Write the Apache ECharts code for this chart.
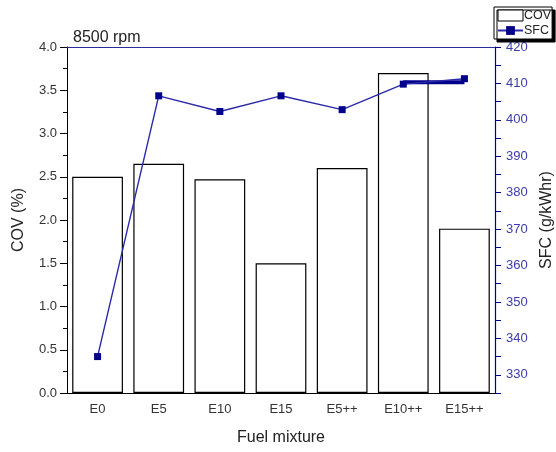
<!DOCTYPE html>
<html>
<head>
<meta charset="utf-8">
<script src="https://cdn.jsdelivr.net/npm/echarts@6/dist/echarts.min.js"></script>
<style>html,body{margin:0;padding:0;background:#fff}#c{width:556px;height:452px}</style>
</head>
<body>
<div id="c"></div>
<script>
const categories = ['E0','E5','E10','E15','E5++','E10++','E15++'];
const covValues = [2.5, 2.65, 2.47, 1.5, 2.6, 3.7, 1.9];
const sfcValues = [335.0, 406.6, 402.3, 406.6, 402.8, 409.8, 411.3];
const sfcBand = [null, null, null, null, null, 410.3, 410.3];
const covTicks = [0, 4, 0.5];
const sfcTicks = [325, 420, 5];

const FONT = '"Liberation Sans", Arial, sans-serif';
const NAVY = '#00008b';
const chart = echarts.init(document.getElementById('c'), null, {renderer: 'canvas'});
const hiddenCat = (extra) => Object.assign({
  type: 'category', data: categories, boundaryGap: true,
  axisLabel: {show: false}, splitLine: {show: false}
}, extra);

chart.setOption({
  animation: false,
  backgroundColor: '#fff',
  textStyle: {fontFamily: FONT},
  title: {
    text: '8500 rpm', left: 68, top: 25,
    textStyle: {fontFamily: FONT, fontSize: 16, fontWeight: 'normal', color: '#222'}
  },
  legend: {
    data: [
      {name: 'COV', icon: 'rect', itemStyle: {color: '#fff', borderColor: '#000', borderWidth: 1}},
      {name: 'SFC'}
    ],
    orient: 'vertical', left: 494, top: 7,
    itemWidth: 25, itemHeight: 11, itemGap: 2,
    padding: [2, 1, 2, 3],
    backgroundColor: '#fff', borderColor: '#000', borderWidth: 1,
    shadowColor: '#000', shadowOffsetX: 3, shadowOffsetY: 3, shadowBlur: 0,
    textStyle: {fontFamily: FONT, fontSize: 12.5, color: '#222', padding: [0, 0, 0, -4]}
  },
  grid: {left: 67, right: 61, top: 47, bottom: 59, containLabel: false, outerBoundsMode: 'none'},
  xAxis: [
    {
      type: 'category', data: categories, boundaryGap: true, position: 'bottom',
      name: 'Fuel mixture', nameLocation: 'middle', nameGap: 37,
      nameTextStyle: {fontFamily: FONT, fontSize: 16, color: '#222'},
      axisLine: {lineStyle: {color: '#000', width: 1}},
      axisTick: {alignWithLabel: true, length: 5, lineStyle: {color: '#000'}},
      axisLabel: {fontFamily: FONT, fontSize: 13, color: '#333', margin: 10},
      splitLine: {show: false}
    },
    hiddenCat({position: 'bottom', axisLine: {show: false},
      axisTick: {alignWithLabel: false, length: 3, lineStyle: {color: '#000'}}}),
    hiddenCat({position: 'top', axisLine: {lineStyle: {color: '#2b2b9a', width: 1}},
      axisTick: {inside: true, alignWithLabel: true, length: 5, lineStyle: {color: '#2b2b9a'}}}),
    hiddenCat({position: 'top', axisLine: {show: false},
      axisTick: {inside: true, alignWithLabel: false, length: 3, lineStyle: {color: '#2b2b9a'}}})
  ],
  yAxis: [
    {
      type: 'value', position: 'left', min: covTicks[0], max: covTicks[1], interval: covTicks[2],
      name: 'COV (%)', nameLocation: 'middle', nameGap: 40, nameRotate: 90,
      nameTextStyle: {fontFamily: FONT, fontSize: 16, color: '#222'},
      axisLine: {show: true, lineStyle: {color: '#000', width: 1}},
      axisTick: {show: true, length: 7, lineStyle: {color: '#000'}},
      minorTick: {show: true, splitNumber: 2, length: 4, lineStyle: {color: '#000'}},
      axisLabel: {fontFamily: FONT, fontSize: 13, color: '#333', margin: 10,
        formatter: v => v.toFixed(1)},
      splitLine: {show: false}
    },
    {
      type: 'value', position: 'right', min: sfcTicks[0], max: sfcTicks[1], interval: sfcTicks[2],
      name: 'SFC (g/kWhr)', nameLocation: 'middle', nameGap: 44, nameRotate: 90,
      nameTextStyle: {fontFamily: FONT, fontSize: 16, color: '#222'},
      axisLine: {show: true, lineStyle: {color: NAVY, width: 1.2}},
      axisTick: {show: true, length: 6, lineStyle: {color: NAVY}},
      axisLabel: {fontFamily: FONT, fontSize: 13, color: '#3b3bab', margin: 11,
        formatter: v => (v % 10 === 0 ? String(v) : '')},
      splitLine: {show: false}
    }
  ],
  series: [
    {
      name: 'COV', type: 'bar', xAxisIndex: 0, yAxisIndex: 0, data: covValues,
      barWidth: '83%',
      itemStyle: {color: '#fff', borderColor: '#000', borderWidth: 1.2},
      z: 1
    },
    {
      name: 'SFCband', type: 'line', xAxisIndex: 0, yAxisIndex: 1, data: sfcBand,
      symbol: 'none', lineStyle: {color: NAVY, width: 4}, z: 3, silent: true
    },
    {
      name: 'SFC', type: 'line', xAxisIndex: 0, yAxisIndex: 1, data: sfcValues,
      symbol: 'rect', symbolSize: 7,
      itemStyle: {color: NAVY},
      lineStyle: {color: '#2a2aa8', width: 1.4},
      z: 4
    }
  ]
});
</script>
</body>
</html>
